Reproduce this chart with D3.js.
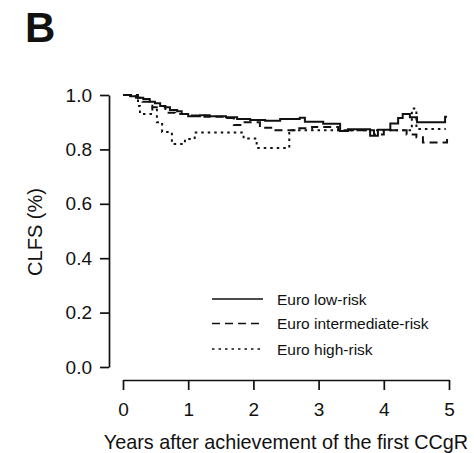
<!DOCTYPE html>
<html>
<head>
<meta charset="utf-8">
<script src="https://cdn.jsdelivr.net/npm/d3@7"></script>
<style>
  html, body { margin: 0; padding: 0; background: #ffffff; }
  svg { display: block; }
  text { font-family: "Liberation Sans", Arial, sans-serif; fill: #111; }
</style>
</head>
<body>
<svg id="chart" width="474" height="453"></svg>
<script>
// ---- data (time in years, CLFS proportion) ----
const lowRisk = [
  [0, 1.0], [0.11, 0.995], [0.23, 0.99], [0.31, 0.985], [0.41, 0.975], [0.49, 0.97],
  [0.57, 0.96], [0.64, 0.955], [0.72, 0.945], [0.83, 0.94], [0.9, 0.93], [1.0, 0.922],
  [1.18, 0.926], [1.33, 0.922], [1.58, 0.918], [1.75, 0.912], [1.95, 0.908], [2.18, 0.905],
  [2.41, 0.912], [2.71, 0.916], [2.79, 0.902], [3.07, 0.894], [3.33, 0.868], [3.45, 0.874],
  [3.79, 0.85], [3.91, 0.872], [4.1, 0.895], [4.22, 0.915], [4.29, 0.93], [4.4, 0.918],
  [4.51, 0.9], [4.94, 0.92], [4.97, 0.92]
];
const intermediateRisk = [
  [0, 1.0], [0.2, 0.99], [0.3, 0.975], [0.45, 0.955], [0.55, 0.96], [0.65, 0.935],
  [0.8, 0.93], [1.0, 0.925], [1.25, 0.92], [1.6, 0.915], [1.7, 0.89], [1.8, 0.9],
  [2.1, 0.88], [2.3, 0.87], [2.65, 0.878], [2.9, 0.882], [3.3, 0.87], [3.85, 0.855],
  [4.0, 0.87], [4.35, 0.855], [4.5, 0.845], [4.6, 0.825], [4.97, 0.85], [4.99, 0.85]
];
const highRisk = [
  [0, 1.0], [0.23, 0.96], [0.26, 0.93], [0.45, 0.95], [0.52, 0.9], [0.6, 0.864],
  [0.75, 0.82], [0.95, 0.838], [1.1, 0.862], [1.85, 0.84], [2.05, 0.805], [2.55, 0.87],
  [4.43, 0.95], [4.5, 0.875], [4.95, 0.875]
];
const seriesNames = ["Euro low-risk", "Euro intermediate-risk", "Euro high-risk"];
const xTicks = [0, 1, 2, 3, 4, 5];
const yTicks = [0.0, 0.2, 0.4, 0.6, 0.8, 1.0];
const panelLabel = "B";
const xTitle = "Years after achievement of the first CCgR";
const yTitle = "CLFS (%)";

// ---- layout ----
const svg = d3.select("#chart");
const x = d3.scaleLinear().domain([0, 5]).range([123, 449]);
const y = d3.scaleLinear().domain([0, 1]).range([367, 95]);
const yAxisX = 109, xAxisY = 380;

svg.append("text").attr("x", 25).attr("y", 42)
  .attr("font-size", 42).attr("font-weight", "bold").text(panelLabel);

// y axis
const yAxis = d3.axisLeft(y).tickValues(yTicks).tickFormat(d3.format(".1f"))
  .tickSize(9).tickSizeOuter(0).tickPadding(8);
const gy = svg.append("g").attr("transform", `translate(${yAxisX},0)`).call(yAxis);
gy.selectAll("text").attr("font-size", 19).attr("fill", "#111").style("font-family", '"Liberation Sans", Arial, sans-serif');

// x axis
const xAxis = d3.axisBottom(x).tickValues(xTicks).tickFormat(d3.format("d"))
  .tickSize(10).tickSizeOuter(0).tickPadding(13);
const gx = svg.append("g").attr("transform", `translate(0,${xAxisY})`).call(xAxis);
gx.selectAll("text").attr("font-size", 19).attr("fill", "#111").style("font-family", '"Liberation Sans", Arial, sans-serif');

svg.selectAll(".domain, .tick line").attr("stroke", "#111").attr("stroke-width", 1.7);

// titles
svg.append("text").attr("x", 286).attr("y", 449).attr("text-anchor", "middle")
  .attr("font-size", 19.8).text(xTitle);
svg.append("text").attr("transform", "translate(42,232) rotate(-90)")
  .attr("text-anchor", "middle").attr("font-size", 20).text(yTitle);

// curves
const line = d3.line().x(d => x(d[0])).y(d => y(d[1])).curve(d3.curveStepAfter);
const styles = [
  { data: lowRisk, dash: null, width: 2 },
  { data: intermediateRisk, dash: "8,5", width: 2 },
  { data: highRisk, dash: "2.5,4", width: 2 }
];
styles.forEach(s => {
  svg.append("path").datum(s.data).attr("d", line)
    .attr("fill", "none").attr("stroke", "#111")
    .attr("stroke-width", s.width)
    .attr("stroke-dasharray", s.dash);
});

// legend
const legY = [299, 323.5, 349];
seriesNames.forEach((name, i) => {
  svg.append("line").attr("x1", 212).attr("x2", 263).attr("y1", legY[i]).attr("y2", legY[i])
    .attr("stroke", "#111").attr("stroke-width", 1.7)
    .attr("stroke-dasharray", styles[i].dash);
  svg.append("text").attr("x", 277).attr("y", legY[i] + 5.5)
    .attr("font-size", 15.5).text(name);
});
</script>
</body>
</html>
